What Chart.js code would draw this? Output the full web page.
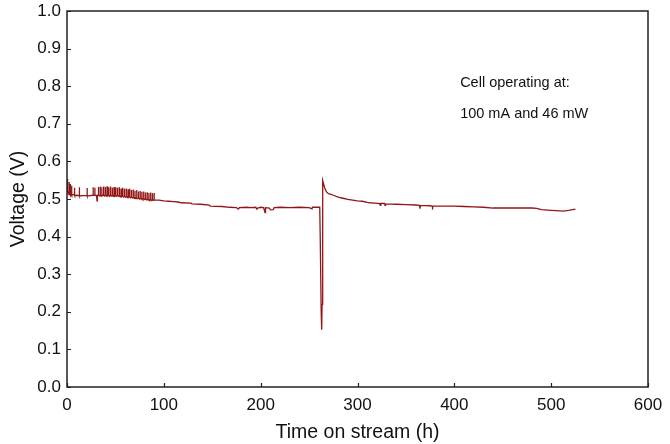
<!DOCTYPE html>
<html>
<head>
<meta charset="utf-8">
<script src="https://cdn.jsdelivr.net/npm/chart.js@4.4.1/dist/chart.umd.min.js"></script>
<style>
  html, body { margin: 0; padding: 0; background: #fff; }
  #wrap { width: 670px; height: 444px; position: relative; }
</style>
</head>
<body>
<div id="wrap"><canvas id="voltChart"></canvas></div>
<script>
// ---- data: [time on stream (h), voltage (V)] ----
// start-up with spiky region
const startUp = [
    [0, 0.528], [0.4, 0.553], [0.8, 0.522], [1.5, 0.515], [2.1, 0.514], [2.2, 0.545], [2.3, 0.512],
    [3.3, 0.512], [3.4, 0.540], [3.5, 0.511], [4.7, 0.511], [4.8, 0.535], [4.9, 0.510],
    [6.5, 0.512], [7.7, 0.510], [7.8, 0.530], [7.9, 0.509], [10, 0.510], [12.7, 0.509],
    [12.8, 0.531], [12.9, 0.508], [16, 0.509], [20.7, 0.509], [20.8, 0.529], [20.9, 0.508],
    [24, 0.509], [26.9, 0.510], [27, 0.531], [27.1, 0.510], [28.7, 0.510], [28.8, 0.530],
    [28.9, 0.510], [30.5, 0.509], [31, 0.495], [31.4, 0.510]
];
const spikyRun = [
    [32.4, 0.511], [32.5, 0.532], [32.6, 0.511], [33.4, 0.508],
    [34.2, 0.510], [34.3, 0.533], [34.4, 0.510], [35.2, 0.508],
    [35.9, 0.512], [36.0, 0.531], [36.1, 0.512], [36.9, 0.509],
    [37.7, 0.510], [37.8, 0.533], [37.9, 0.510], [38.7, 0.508],
    [39.5, 0.511], [39.6, 0.532], [39.7, 0.511], [40.5, 0.508],
    [41.3, 0.511], [41.4, 0.534], [41.5, 0.511], [42.3, 0.508],
    [43.1, 0.510], [43.2, 0.531], [43.3, 0.510], [44.1, 0.507],
    [44.9, 0.511], [45.0, 0.533], [45.1, 0.511], [45.9, 0.508],
    [46.7, 0.510], [46.8, 0.530], [46.9, 0.510], [47.7, 0.507],
    [48.5, 0.510], [48.6, 0.532], [48.7, 0.510], [49.5, 0.507],
    [50.3, 0.509], [50.4, 0.531], [50.5, 0.509], [51.3, 0.507],
    [52.1, 0.510], [52.2, 0.530], [52.3, 0.510], [53.1, 0.507],
    [53.9, 0.509], [54.0, 0.531], [54.1, 0.509], [54.9, 0.506],
    [55.7, 0.508], [55.8, 0.528], [55.9, 0.508], [56.7, 0.506],
    [57.5, 0.508], [57.6, 0.530], [57.7, 0.508], [58.5, 0.505],
    [59.3, 0.507], [59.4, 0.527], [59.5, 0.507], [60.3, 0.505],
    [61.1, 0.507], [61.2, 0.528], [61.3, 0.507], [62.1, 0.504],
    [62.9, 0.506], [63.0, 0.526], [63.1, 0.506], [63.9, 0.504],
    [64.7, 0.506], [64.8, 0.527], [64.9, 0.506], [65.7, 0.503],
    [66.5, 0.505], [66.6, 0.524], [66.7, 0.505], [67.5, 0.503],
    [68.3, 0.505], [68.4, 0.525], [68.5, 0.505], [69.3, 0.502],
    [70.1, 0.504], [70.2, 0.522], [70.3, 0.504], [71.1, 0.502],
    [71.9, 0.503], [72.0, 0.524], [72.1, 0.503], [72.9, 0.501],
    [73.7, 0.503], [73.8, 0.520], [73.9, 0.503], [74.7, 0.500],
    [75.5, 0.502], [75.6, 0.521], [75.7, 0.502], [76.5, 0.500],
    [77.3, 0.502], [77.4, 0.519], [77.5, 0.502], [78.3, 0.499],
    [79.1, 0.501], [79.2, 0.520], [79.3, 0.501], [80.1, 0.499],
    [80.9, 0.500], [81.0, 0.517], [81.1, 0.500], [81.9, 0.498],
    [82.7, 0.500], [82.8, 0.518], [82.9, 0.500], [83.7, 0.497],
    [84.5, 0.499], [84.6, 0.516], [84.7, 0.499], [85.5, 0.497],
    [86.3, 0.499], [86.4, 0.517], [86.5, 0.499], [87.3, 0.496],
    [88.1, 0.498], [88.2, 0.515], [88.3, 0.498], [89.1, 0.496],
    [89.9, 0.497], [90.0, 0.516], [90.1, 0.497]
];
// slow decline before the interruption
const firstPlateau = [
    [91, 0.497], [95, 0.497], [100, 0.495], [105, 0.494], [110, 0.493], [115, 0.492],
    [118, 0.490], [128, 0.489], [129, 0.487], [138, 0.486], [147, 0.484], [148, 0.481],
    [160, 0.480], [168, 0.478], [175, 0.477], [177, 0.473], [178, 0.477], [185, 0.478],
    [190, 0.477], [195, 0.478], [196, 0.473], [197, 0.476], [200, 0.478], [203, 0.477],
    [204.5, 0.464], [205, 0.477], [209, 0.476], [210, 0.471], [213, 0.472], [214, 0.477],
    [220, 0.478], [230, 0.477], [240, 0.478], [250, 0.477], [253, 0.474], [253.5, 0.478],
    [261, 0.478]
];
// interruption and recovery
const interruption = [
    [261.5, 0.40], [262.5, 0.20], [263, 0.152], [263.4, 0.22], [263.8, 0.40], [264.3, 0.549],
    [265, 0.540], [266, 0.530], [268, 0.519], [270, 0.514], [272, 0.513], [275, 0.510]
];
const secondPlateau = [
    [280, 0.505], [285, 0.502], [290, 0.499], [295, 0.497], [300, 0.495], [305, 0.494],
    [310, 0.491], [313, 0.490], [318, 0.489], [323, 0.488], [323.5, 0.483], [324, 0.488],
    [328, 0.488], [328.5, 0.483], [329, 0.487], [340, 0.486], [350, 0.485], [360, 0.484],
    [364, 0.483], [364.5, 0.474], [365, 0.483], [375, 0.482], [377, 0.481], [377.5, 0.478],
    [378, 0.481], [390, 0.481], [400, 0.481], [410, 0.480], [420, 0.479], [430, 0.478],
    [440, 0.476], [450, 0.476], [460, 0.476], [470, 0.476], [480, 0.476], [485, 0.475],
    [490, 0.472], [500, 0.470], [505, 0.469], [512, 0.468], [518, 0.470], [525, 0.473]
];

const xTicks = [0, 100, 200, 300, 400, 500, 600];
const yTicks = [0.0, 0.1, 0.2, 0.3, 0.4, 0.5, 0.6, 0.7, 0.8, 0.9, 1.0];
const noteLines = ['Cell operating at:', '100 mA and 46 mW'];

const FONT = '"Liberation Sans", Arial, sans-serif';

const trace = [...startUp, ...spikyRun, ...firstPlateau, ...interruption, ...secondPlateau]
    .map(([h, v]) => ({ x: h, y: v }));

// frame + inward ticks + note text
const framePlugin = {
    id: 'frame',
    afterDraw(chart) {
        const { ctx, chartArea: a, scales: { x, y } } = chart;
        ctx.save();
        ctx.strokeStyle = '#222';
        ctx.lineWidth = 1.5;
        ctx.strokeRect(a.left, a.top, a.right - a.left, a.bottom - a.top);
        ctx.lineWidth = 1.2;
        ctx.beginPath();
        xTicks.forEach(t => {
            const px = Math.round(x.getPixelForValue(t)) + 0.5;
            ctx.moveTo(px, a.bottom);
            ctx.lineTo(px, a.bottom - 4);
        });
        yTicks.forEach(t => {
            const py = Math.round(y.getPixelForValue(t)) + 0.5;
            ctx.moveTo(a.left, py);
            ctx.lineTo(a.left + 4, py);
        });
        ctx.stroke();

        ctx.fillStyle = '#111';
        ctx.font = '14.5px ' + FONT;
        ctx.textBaseline = 'alphabetic';
        ctx.fillText(noteLines[0], x.getPixelForValue(406), y.getPixelForValue(0.798));
        ctx.fillText(noteLines[1], x.getPixelForValue(406), y.getPixelForValue(0.716));
        ctx.restore();
    }
};

new Chart(document.getElementById('voltChart'), {
    type: 'line',
    data: {
        datasets: [{
            data: trace,
            borderColor: '#921616',
            borderWidth: 1.3,
            pointRadius: 0,
            tension: 0,
            fill: false
        }]
    },
    options: {
        responsive: true,
        maintainAspectRatio: false,
        animation: false,
        events: [],
        layout: { padding: { left: 0, right: 22, top: 11, bottom: 0 } },
        plugins: { legend: { display: false }, tooltip: { enabled: false } },
        scales: {
            x: {
                type: 'linear',
                min: 0, max: 600,
                afterBuildTicks: s => { s.ticks = xTicks.map(v => ({ value: v })); },
                afterFit: s => { s.height = 57; s.paddingRight = 0; },
                grid: { display: false, drawTicks: false },
                border: { display: false },
                ticks: {
                    color: '#111',
                    padding: 10,
                    font: { family: FONT, size: 17, lineHeight: 1 },
                    maxRotation: 0
                },
                title: {
                    display: true,
                    text: 'Time on stream (h)',
                    color: '#111',
                    font: { family: FONT, size: 19.5 },
                    padding: { top: 0, bottom: 0 }
                }
            },
            y: {
                type: 'linear',
                min: 0, max: 1,
                afterBuildTicks: s => { s.ticks = yTicks.map(v => ({ value: v })); },
                afterFit: s => { s.width = 67; s.paddingTop = 0; },
                grid: { display: false, drawTicks: false },
                border: { display: false },
                ticks: {
                    color: '#111',
                    padding: 6,
                    font: { family: FONT, size: 17, lineHeight: 1 },
                    callback: v => Number(v).toFixed(1)
                },
                title: {
                    display: true,
                    text: 'Voltage (V)',
                    color: '#111',
                    font: { family: FONT, size: 19.5 },
                    padding: { top: 7, bottom: 0 }
                }
            }
        }
    },
    plugins: [framePlugin]
});
</script>
</body>
</html>
